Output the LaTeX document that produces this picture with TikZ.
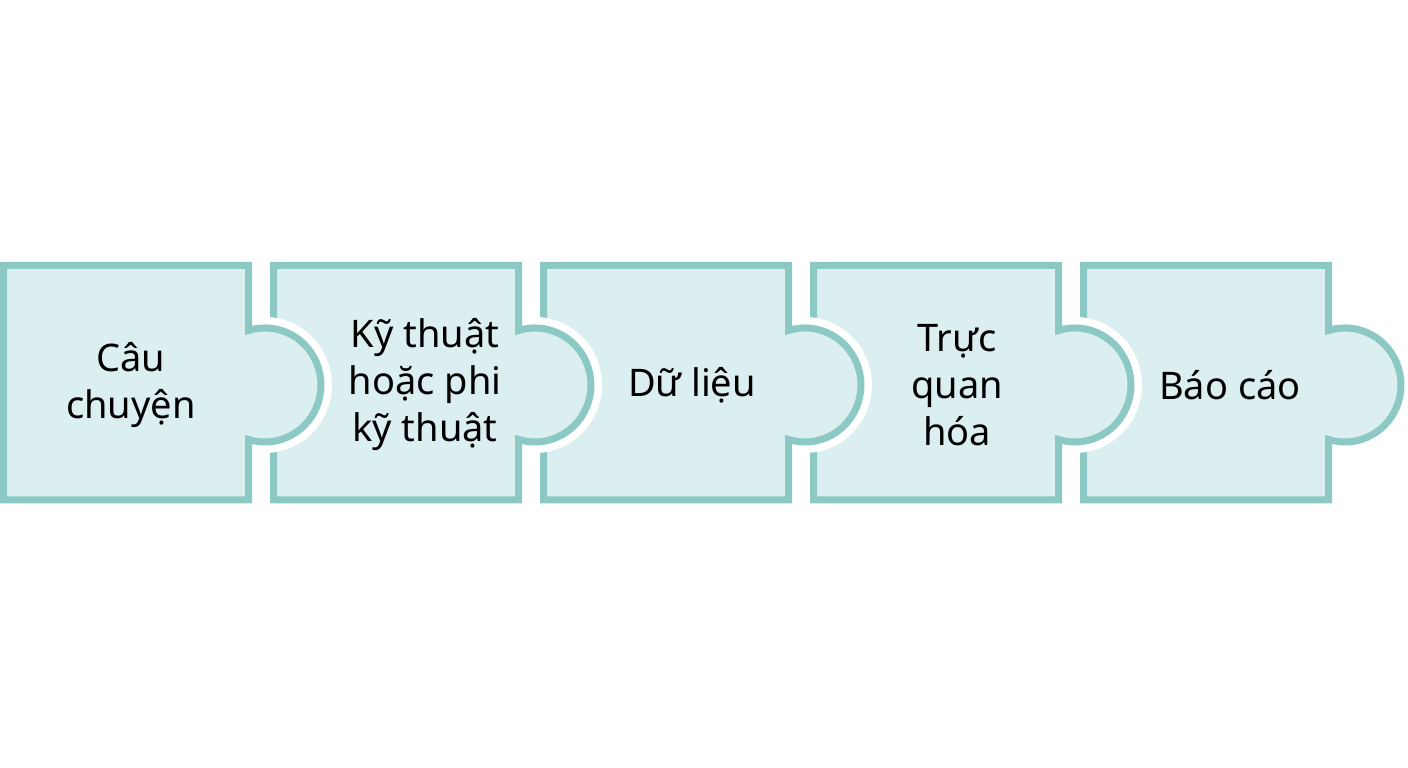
\documentclass[tikz,border=0pt]{standalone}
\usepackage{fontspec}
\setmainfont{Noto Sans}
\definecolor{pieceline}{RGB}{140,201,197}
\definecolor{piecefill}{RGB}{219,238,240}
\tikzset{
  piece/.style={draw=pieceline, fill=piecefill, line width=7pt,
    preaction={draw=white, line width=22pt}},
  piecetext/.style={font=\fontsize{38}{47}\selectfont, align=center, text=black}
}
\begin{document}
\begin{tikzpicture}[x=1pt,y=1pt]
  \useasboundingbox (0,0) rectangle (1408,768);
  % right to left, so that each tab lies over the next piece
  \foreach \n/\sx/\tx/\txt in {5/1080/150/{Báo cáo}, 4/810/147/{Trực\\quan\\hóa},
      3/540/152/{Dữ liệu}, 2/270/155/{Kỹ thuật\\hoặc phi\\kỹ thuật}, 1/0/131/{Câu\\chuyện}}{
    \begin{scope}[shift={(\sx,0)}]
      \filldraw[piece](3.5,268) -- (3.5,502.5) -- (248.5,502.5) -- (248.5,437.5)
        arc(107.1:-107.1:56 and 57) -- (248.5,268) -- cycle;
      \node[piecetext] (puzzle\n) at (\tx,383) {\txt};
    \end{scope}
  }
\end{tikzpicture}
\end{document}
